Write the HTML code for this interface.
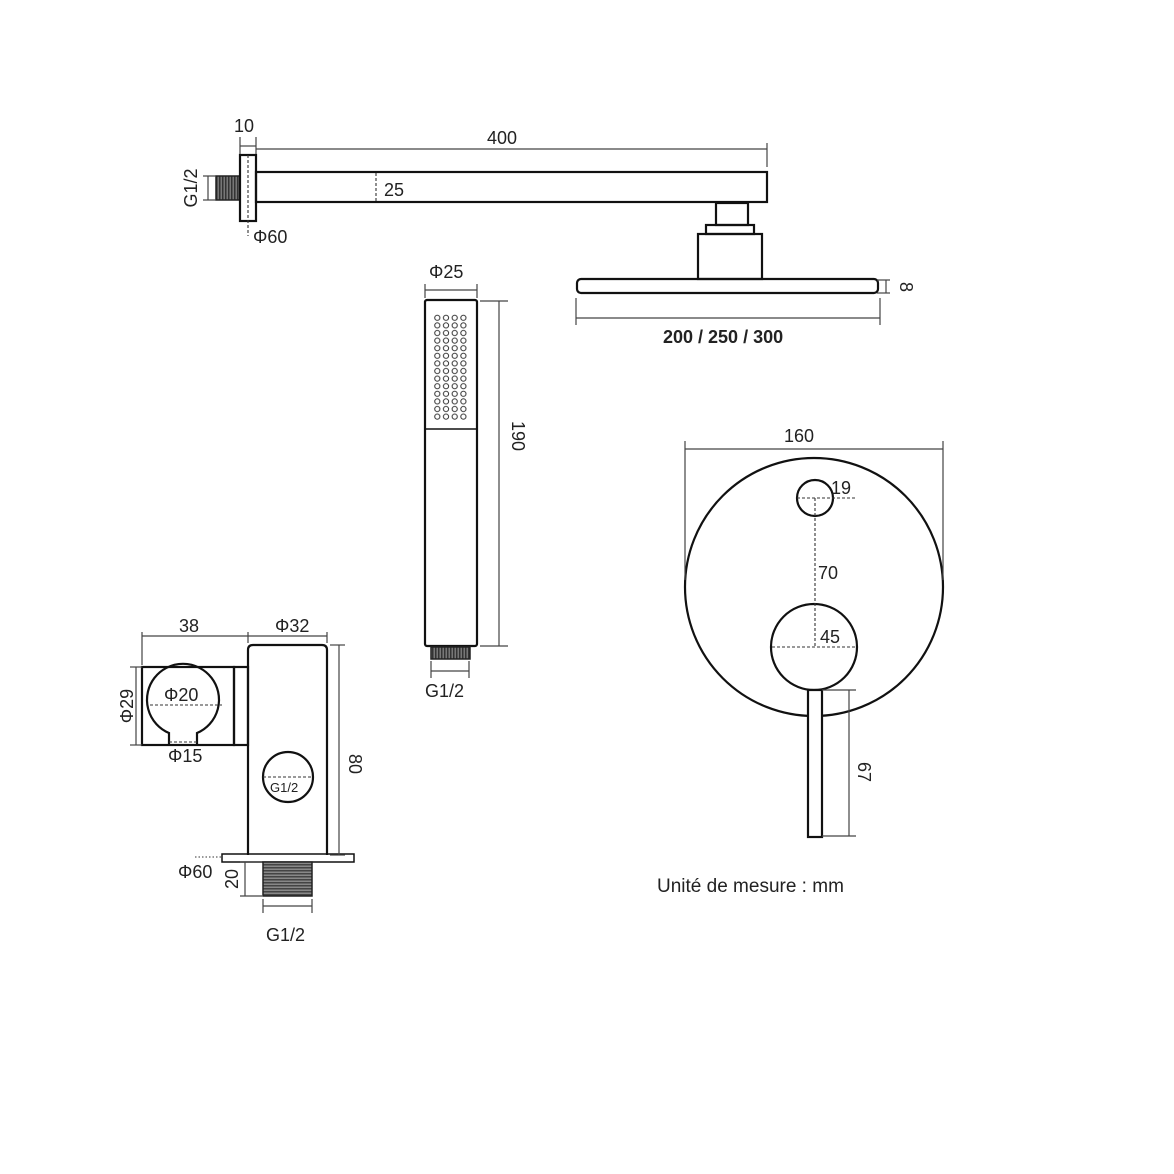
<!DOCTYPE html>
<html><head><meta charset="utf-8"><style>
html,body{margin:0;padding:0;background:#fff;}
svg{display:block;}
text{font-family:"Liberation Sans",sans-serif;fill:#222;}
</style></head><body>
<svg width="1174" height="1174" viewBox="0 0 1174 1174" xmlns="http://www.w3.org/2000/svg">
<defs>
<pattern id="dots" x="433" y="314" width="8.7" height="7.6" patternUnits="userSpaceOnUse">
<circle cx="4.3" cy="3.8" r="2.6" fill="none" stroke="#333" stroke-width="1"/>
</pattern>
<pattern id="thv" x="0" y="0" width="3" height="10" patternUnits="userSpaceOnUse">
<rect width="3" height="10" fill="#777"/><rect width="1.5" height="10" fill="#333"/>
</pattern>
<pattern id="thh" x="0" y="0" width="10" height="3" patternUnits="userSpaceOnUse">
<rect width="10" height="3" fill="#888"/><rect width="10" height="1.5" fill="#444"/>
</pattern>
</defs>
<g fill="none" stroke="#111" stroke-width="2.2">
<!-- shower arm -->
<rect x="216" y="176" width="24" height="24" fill="url(#thv)" stroke="#222" stroke-width="1.5"/>
<rect x="240" y="155" width="16" height="66"/>
<rect x="256" y="172" width="511" height="30"/>
<!-- head -->
<rect x="716" y="203" width="32" height="22"/>
<rect x="706" y="225" width="48" height="9"/>
<rect x="698" y="234" width="64" height="45"/>
<rect x="577" y="279" width="301" height="14" rx="4"/>
<!-- hand shower -->
<rect x="425" y="300" width="52" height="346" rx="2"/>
<line x1="425" y1="429" x2="477" y2="429" stroke-width="1.5"/>
<rect x="431" y="647" width="39" height="12" fill="url(#thv)" stroke="#222" stroke-width="1.5"/>
<!-- mixer -->
<circle cx="814" cy="587" r="129"/>
<circle cx="815" cy="498" r="18"/>
<circle cx="814" cy="647" r="43" fill="#fff"/>
<rect x="808" y="690" width="14" height="147" fill="#fff"/>
<!-- wall outlet -->
<rect x="142" y="667" width="92" height="78"/>
<rect x="234" y="667" width="14" height="78"/>
<path d="M169 745 L169 733 A36 36 0 1 1 197 733 L197 745"/>
<path d="M248 855 L248 650 Q248 645 253 645 L322 645 Q327 645 327 650 L327 855"/>
<circle cx="288" cy="777" r="25"/>
<rect x="222" y="854" width="132" height="8" stroke-width="1.5"/>
<rect x="263" y="862" width="49" height="34" fill="url(#thh)" stroke="#222" stroke-width="1.5"/>
</g>
<g fill="url(#dots)" stroke="none"><rect x="433" y="314" width="35" height="106"/></g>
<!-- dimension lines -->
<g stroke="#444" stroke-width="1.2" fill="none">
<line x1="256" y1="149" x2="767" y2="149"/><line x1="767" y1="143" x2="767" y2="167"/>
<line x1="240" y1="137" x2="240" y2="154"/><line x1="256" y1="137" x2="256" y2="154"/><line x1="240" y1="146" x2="256" y2="146"/>
<line x1="203" y1="176" x2="216" y2="176"/><line x1="203" y1="200" x2="216" y2="200"/><line x1="208" y1="176" x2="208" y2="200"/>
<line x1="877" y1="280" x2="890" y2="280"/><line x1="877" y1="293" x2="890" y2="293"/><line x1="886" y1="280" x2="886" y2="293"/>
<line x1="576" y1="298" x2="576" y2="325"/><line x1="880" y1="298" x2="880" y2="325"/><line x1="576" y1="318" x2="880" y2="318"/>
<line x1="425" y1="284" x2="425" y2="298"/><line x1="477" y1="284" x2="477" y2="298"/><line x1="425" y1="290" x2="477" y2="290"/>
<line x1="480" y1="301" x2="508" y2="301"/><line x1="480" y1="646" x2="508" y2="646"/><line x1="499" y1="301" x2="499" y2="646"/>
<line x1="431" y1="661" x2="431" y2="678"/><line x1="469" y1="661" x2="469" y2="678"/><line x1="431" y1="671" x2="469" y2="671"/>
<line x1="685" y1="441" x2="685" y2="580"/><line x1="943" y1="441" x2="943" y2="580"/><line x1="685" y1="449" x2="943" y2="449"/>
<line x1="822" y1="690" x2="856" y2="690"/><line x1="822" y1="836" x2="856" y2="836"/><line x1="849" y1="690" x2="849" y2="836"/>
<line x1="142" y1="632" x2="142" y2="665"/><line x1="248" y1="632" x2="248" y2="643"/><line x1="142" y1="636" x2="248" y2="636"/>
<line x1="327" y1="632" x2="327" y2="643"/><line x1="248" y1="636" x2="327" y2="636"/>
<line x1="130" y1="667" x2="142" y2="667"/><line x1="130" y1="745" x2="142" y2="745"/><line x1="136" y1="667" x2="136" y2="745"/>
<line x1="330" y1="645" x2="345" y2="645"/><line x1="330" y1="855" x2="345" y2="855"/><line x1="339" y1="645" x2="339" y2="855"/>
<line x1="240" y1="862" x2="262" y2="862"/><line x1="240" y1="896" x2="262" y2="896"/><line x1="245" y1="862" x2="245" y2="896"/>
<line x1="263" y1="899" x2="263" y2="913"/><line x1="312" y1="899" x2="312" y2="913"/><line x1="263" y1="906" x2="312" y2="906"/>
</g>
<g stroke="#333" stroke-width="1.1" fill="none" stroke-dasharray="3,2">
<line x1="248" y1="155" x2="248" y2="236"/>
<line x1="376" y1="173" x2="376" y2="201"/>
<line x1="797" y1="498" x2="855" y2="498"/>
<line x1="815" y1="498" x2="815" y2="647"/>
<line x1="772" y1="647" x2="857" y2="647"/>
<line x1="150" y1="705" x2="222" y2="705"/>
<line x1="169" y1="742" x2="197" y2="742"/>
<line x1="263" y1="777" x2="313" y2="777"/>
<line x1="195" y1="857" x2="222" y2="857" stroke-dasharray="1.5,2"/>
</g>
<g font-size="18">
<text x="234" y="132">10</text>
<text x="487" y="144">400</text>
<text x="384" y="196">25</text>
<text x="253" y="243">Φ60</text>
<text x="191" y="188" text-anchor="middle" transform="rotate(-90 191 188)" dy="6">G1/2</text>
<text x="429" y="278">Φ25</text>
<text x="663" y="343" font-weight="bold" fill="#333">200 / 250 / 300</text>
<text x="906" y="287" text-anchor="middle" transform="rotate(90 906 287)" dy="6">8</text>
<text x="518" y="436" text-anchor="middle" transform="rotate(90 518 436)" dy="6">190</text>
<text x="425" y="697">G1/2</text>
<text x="784" y="442">160</text>
<text x="831" y="494">19</text>
<text x="818" y="579">70</text>
<text x="820" y="643">45</text>
<text x="864" y="772" text-anchor="middle" transform="rotate(90 864 772)" dy="6">67</text>
<text x="179" y="632">38</text>
<text x="275" y="632">Φ32</text>
<text x="164" y="701">Φ20</text>
<text x="127" y="706" text-anchor="middle" transform="rotate(-90 127 706)" dy="6">Φ29</text>
<text x="168" y="762">Φ15</text>
<text x="355" y="764" text-anchor="middle" transform="rotate(90 355 764)" dy="6">80</text>
<text x="270" y="792" font-size="13">G1/2</text>
<text x="178" y="878">Φ60</text>
<text x="232" y="879" text-anchor="middle" transform="rotate(-90 232 879)" dy="6">20</text>
<text x="266" y="941">G1/2</text>
<text x="657" y="892" font-size="19" fill="#333">Unité de mesure : mm</text>
</g>
</svg>
</body></html>
